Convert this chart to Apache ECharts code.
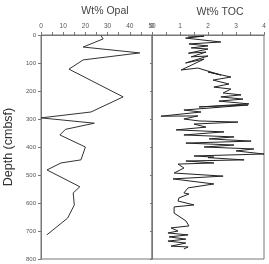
<!DOCTYPE html>
<html>
<head>
<meta charset="utf-8">
<script src="https://cdn.jsdelivr.net/npm/echarts@6/dist/echarts.min.js"></script>
<style>
  html, body { margin: 0; padding: 0; background: #fff; }
  #chart { width: 269px; height: 264px; }
</style>
</head>
<body>
<div id="chart"></div>
<script>
// opal: wt% vs depth (cmbsf)
var opalWt    = [27, 28, 19, 44.5, 19, 12.6, 37, 22.5, 0, 24, 11, 8.5, 20, 18, 9, 2.7, 2, 17.5, 14.5, 15, 12, 2.6];
var opalDepth = [2, 14, 43, 64, 89, 122, 221, 275, 296, 315, 337, 357, 400, 446, 457, 482, 489, 542, 564, 607, 654, 714];

// TOC: wt% vs depth (cmbsf)
var tocWt = [1.29, 1.86, 1.2, 2.46, 1.32, 2.0, 1.4, 2.0, 1.3, 1.93, 1.4, 2.0, 1.2, 1.86, 1.04, 1.64,
  2.46, 2.0, 2.82, 2.18, 2.75, 2.21, 2.82, 2.54, 3.18, 2.46, 3.25, 2.39, 3.46, 1.68, 3.43, 1.14,
  1.75, 0.32, 1.64, 1.14, 1.68, 3.07, 1.5, 1.93, 0.86, 2.57, 1.14, 2.93, 2.04, 3.54, 1.21, 2.93,
  1.86, 3.64, 3.0, 4.0, 1.5, 2.21, 2.0, 3.29, 1.21, 2.21, 0.93, 1.14, 0.79, 2.54, 0.75, 2.21,
  1.29, 1.14, 1.32, 0.96, 0.93, 1.5, 0.79, 0.79, 1.21, 1.32, 0.68, 0.93, 0.57, 1.29, 0.61, 1.21,
  0.57, 1.21, 0.68, 1.29, 1.14];
var tocDepth = [7, 4, 11, 25, 32, 39, 46, 50, 65, 61, 78, 75, 100, 86, 125, 118,
  143, 132, 150, 161, 175, 186, 193, 207, 214, 221, 229, 236, 246, 257, 250, 268,
  275, 290, 289, 300, 307, 311, 318, 329, 339, 346, 357, 364, 371, 379, 386, 393,
  400, 407, 414, 425, 432, 436, 438, 446, 450, 457, 461, 475, 493, 504, 514, 532,
  546, 564, 568, 582, 593, 607, 614, 636, 664, 682, 689, 700, 707, 714, 721, 729,
  736, 743, 754, 757, 764];

var opalTicks = [0, 10, 20, 30, 40, 50];
var tocTicks = [0, 1, 2, 3, 4];

function pairs(xs, ys) {
  return xs.map(function (v, i) { return [v, ys[i]]; });
}

var axisGray = "#777";
var textGray = "#555";
var font = "Liberation Sans";

var chart = echarts.init(document.getElementById("chart"));
chart.setOption({
  animation: false,
  backgroundColor: "#fff",
  title: [
    { text: "Wt% Opal", left: 100, top: 1, textAlign: "center",
      textStyle: { fontFamily: font, fontSize: 10.5, fontWeight: "normal", color: "#444" } },
    { text: "Wt% TOC", left: 215, top: 2, textAlign: "center",
      textStyle: { fontFamily: font, fontSize: 10.5, fontWeight: "normal", color: "#444" } }
  ],
  grid: [
    { left: 41, top: 35, width: 111, height: 224, show: true, borderColor: axisGray, borderWidth: 1 },
    { left: 152, top: 35, width: 112, height: 224, show: true, borderColor: axisGray, borderWidth: 1 }
  ],
  xAxis: [
    {
      gridIndex: 0, type: "value", position: "top", min: 0, max: 50, interval: 5,
      axisLine: { lineStyle: { color: axisGray } },
      axisTick: { length: 3, lineStyle: { color: axisGray } },
      splitLine: { show: false },
      axisLabel: {
        fontFamily: font, fontSize: 6.5, color: textGray, margin: 5,
        formatter: function (v) { return opalTicks.indexOf(v) >= 0 ? String(v) : ""; }
      }
    },
    {
      gridIndex: 1, type: "value", position: "top", min: 0, max: 4, interval: 0.5,
      axisLine: { lineStyle: { color: axisGray } },
      axisTick: { length: 3, lineStyle: { color: axisGray } },
      splitLine: { show: false },
      axisLabel: {
        fontFamily: font, fontSize: 6.5, color: textGray, margin: 5,
        formatter: function (v) { return tocTicks.indexOf(v) >= 0 ? String(v) : ""; }
      }
    }
  ],
  yAxis: [
    {
      gridIndex: 0, type: "value", inverse: true, min: 0, max: 800, interval: 100,
      name: "Depth (cmbsf)", nameLocation: "middle", nameGap: 26,
      nameTextStyle: { fontFamily: font, fontSize: 12.5, color: "#333" },
      axisLine: { show: true, lineStyle: { color: axisGray } },
      axisTick: { show: true, length: 3, lineStyle: { color: axisGray } },
      splitLine: { show: false },
      axisLabel: { fontFamily: font, fontSize: 6, color: textGray, margin: 5 }
    },
    {
      gridIndex: 1, type: "value", inverse: true, min: 0, max: 800, interval: 100,
      position: "right",
      axisLine: { show: true, lineStyle: { color: axisGray } },
      axisTick: { show: true, inside: true, length: 2, lineStyle: { color: axisGray } },
      splitLine: { show: false },
      axisLabel: { show: false }
    }
  ],
  series: [
    {
      type: "line", xAxisIndex: 0, yAxisIndex: 0, data: pairs(opalWt, opalDepth),
      showSymbol: false, lineStyle: { color: "#333", width: 1 }
    },
    {
      type: "line", xAxisIndex: 1, yAxisIndex: 1, data: pairs(tocWt, tocDepth),
      showSymbol: false, lineStyle: { color: "#222", width: 1 }
    }
  ]
});
</script>
</body>
</html>
